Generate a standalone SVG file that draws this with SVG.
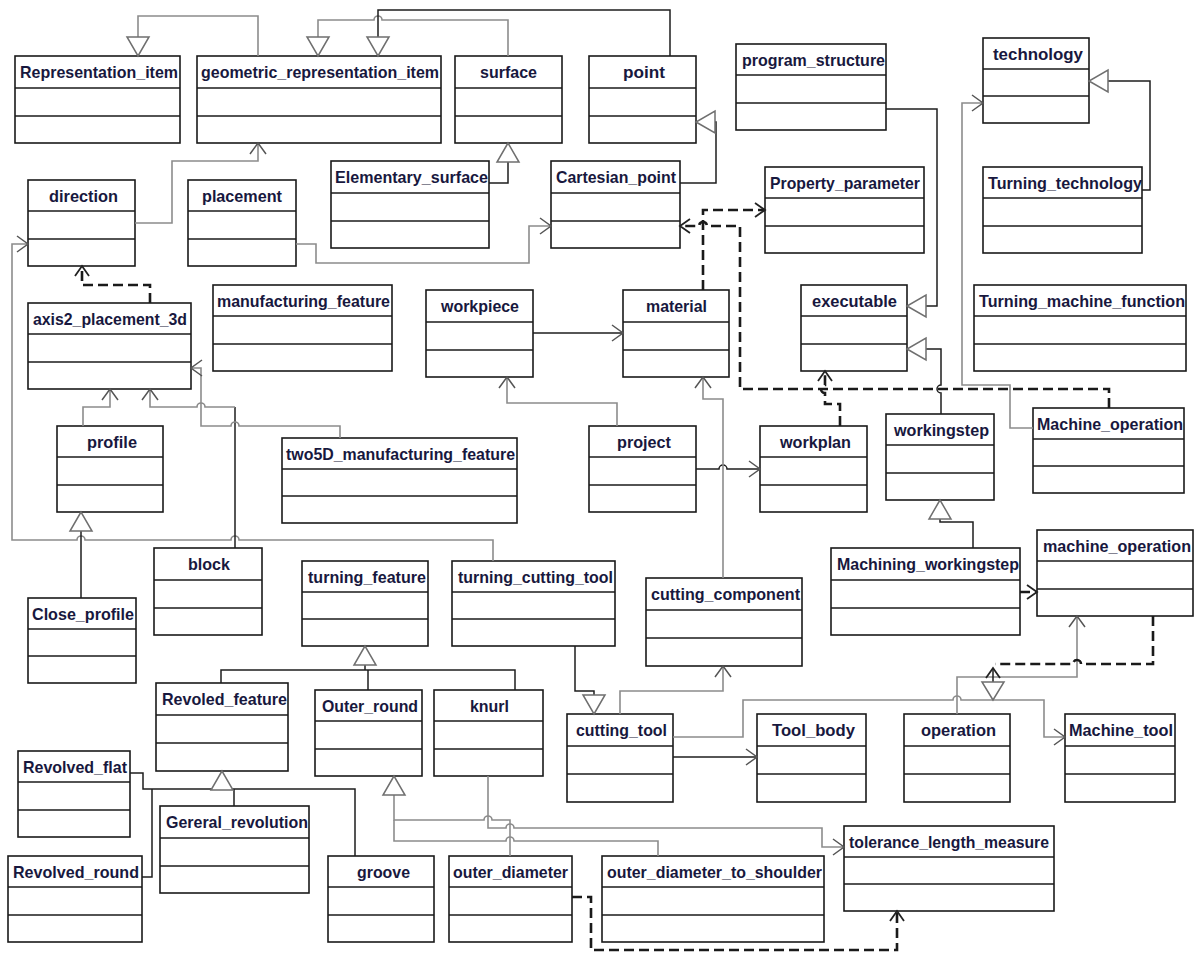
<svg xmlns="http://www.w3.org/2000/svg" width="1194" height="953" viewBox="0 0 1194 953">
<defs>
<style>
.box rect{fill:#fff;stroke:#1a1a1a;stroke-width:1.6}
.box line{stroke:#1a1a1a;stroke-width:1.4}
.t{font-family:"Liberation Sans",Arial,sans-serif;font-size:16.5px;font-weight:bold;fill:#18183e}
.k{fill:none;stroke:#1e1e1e;stroke-width:1.5}
.g{fill:none;stroke:#8c8c8c;stroke-width:1.6}
.d{fill:none;stroke:#1a1a1a;stroke-width:2.6;stroke-dasharray:10 5}
</style>
<marker id="tri" markerUnits="userSpaceOnUse" viewBox="-22 -13 24 26" markerWidth="24" markerHeight="26" refX="0" refY="0" orient="auto" overflow="visible">
<path d="M0,0 L-19,-11 L-19,11 Z" fill="#fff" stroke="#6f6f6f" stroke-width="1.5"/>
</marker>
<marker id="arr" markerUnits="userSpaceOnUse" viewBox="-13 -10 15 20" markerWidth="15" markerHeight="20" refX="0" refY="0" orient="auto" overflow="visible">
<path d="M-11,-8 L0,0 L-11,8" fill="none" stroke="#555" stroke-width="1.5"/>
</marker>
<marker id="arrk" markerUnits="userSpaceOnUse" viewBox="-13 -10 15 20" markerWidth="15" markerHeight="20" refX="0" refY="0" orient="auto" overflow="visible">
<path d="M-10,-7 L0,0 L-10,7" fill="none" stroke="#222" stroke-width="1.8"/>
</marker>
</defs>
<rect width="1194" height="953" fill="#fff"/>

<g id="n_representation_item" class="box"><rect x="15" y="56" width="165" height="87"/><line x1="15" y1="88" x2="180" y2="88"/><line x1="15" y1="116" x2="180" y2="116"/><text class="t" x="20" y="78" textLength="158" lengthAdjust="spacingAndGlyphs">Representation_item</text></g>
<g id="n_geometric_representation_item" class="box"><rect x="197" y="56" width="244" height="87"/><line x1="197" y1="88" x2="441" y2="88"/><line x1="197" y1="116" x2="441" y2="116"/><text class="t" x="201" y="78" textLength="238" lengthAdjust="spacingAndGlyphs">geometric_representation_item</text></g>
<g id="n_surface" class="box"><rect x="455" y="56" width="107" height="87"/><line x1="455" y1="88" x2="562" y2="88"/><line x1="455" y1="116" x2="562" y2="116"/><text class="t" x="480" y="78" textLength="57" lengthAdjust="spacingAndGlyphs">surface</text></g>
<g id="n_point" class="box"><rect x="589" y="56" width="107" height="87"/><line x1="589" y1="88" x2="696" y2="88"/><line x1="589" y1="116" x2="696" y2="116"/><text class="t" x="623" y="78" textLength="42" lengthAdjust="spacingAndGlyphs">point</text></g>
<g id="n_program_structure" class="box"><rect x="736" y="44" width="150" height="86"/><line x1="736" y1="75" x2="886" y2="75"/><line x1="736" y1="103" x2="886" y2="103"/><text class="t" x="742" y="66" textLength="143" lengthAdjust="spacingAndGlyphs">program_structure</text></g>
<g id="n_technology" class="box"><rect x="983" y="38" width="106" height="85"/><line x1="983" y1="69" x2="1089" y2="69"/><line x1="983" y1="96" x2="1089" y2="96"/><text class="t" x="993" y="60" textLength="90" lengthAdjust="spacingAndGlyphs">technology</text></g>
<g id="n_elementary_surface" class="box"><rect x="331" y="161" width="158" height="87"/><line x1="331" y1="193" x2="489" y2="193"/><line x1="331" y1="221" x2="489" y2="221"/><text class="t" x="335" y="183" textLength="153" lengthAdjust="spacingAndGlyphs">Elementary_surface</text></g>
<g id="n_cartesian_point" class="box"><rect x="551" y="161" width="129" height="87"/><line x1="551" y1="193" x2="680" y2="193"/><line x1="551" y1="221" x2="680" y2="221"/><text class="t" x="556" y="183" textLength="120" lengthAdjust="spacingAndGlyphs">Cartesian_point</text></g>
<g id="n_property_parameter" class="box"><rect x="765" y="167" width="159" height="86"/><line x1="765" y1="198" x2="924" y2="198"/><line x1="765" y1="226" x2="924" y2="226"/><text class="t" x="770" y="189" textLength="150" lengthAdjust="spacingAndGlyphs">Property_parameter</text></g>
<g id="n_turning_technology" class="box"><rect x="983" y="167" width="159" height="86"/><line x1="983" y1="198" x2="1142" y2="198"/><line x1="983" y1="226" x2="1142" y2="226"/><text class="t" x="988" y="189" textLength="154" lengthAdjust="spacingAndGlyphs">Turning_technology</text></g>
<g id="n_direction" class="box"><rect x="28" y="180" width="107" height="86"/><line x1="28" y1="211" x2="135" y2="211"/><line x1="28" y1="239" x2="135" y2="239"/><text class="t" x="49" y="202" textLength="69" lengthAdjust="spacingAndGlyphs">direction</text></g>
<g id="n_placement" class="box"><rect x="188" y="180" width="108" height="86"/><line x1="188" y1="211" x2="296" y2="211"/><line x1="188" y1="239" x2="296" y2="239"/><text class="t" x="202" y="202" textLength="80" lengthAdjust="spacingAndGlyphs">placement</text></g>
<g id="n_manufacturing_feature" class="box"><rect x="213" y="285" width="179" height="86"/><line x1="213" y1="316" x2="392" y2="316"/><line x1="213" y1="344" x2="392" y2="344"/><text class="t" x="217" y="307" textLength="173" lengthAdjust="spacingAndGlyphs">manufacturing_feature</text></g>
<g id="n_axis2_placement_3d" class="box"><rect x="28" y="303" width="163" height="86"/><line x1="28" y1="334" x2="191" y2="334"/><line x1="28" y1="362" x2="191" y2="362"/><text class="t" x="33" y="325" textLength="154" lengthAdjust="spacingAndGlyphs">axis2_placement_3d</text></g>
<g id="n_workpiece" class="box"><rect x="426" y="290" width="107" height="87"/><line x1="426" y1="322" x2="533" y2="322"/><line x1="426" y1="350" x2="533" y2="350"/><text class="t" x="441" y="312" textLength="78" lengthAdjust="spacingAndGlyphs">workpiece</text></g>
<g id="n_material" class="box"><rect x="623" y="290" width="106" height="87"/><line x1="623" y1="322" x2="729" y2="322"/><line x1="623" y1="350" x2="729" y2="350"/><text class="t" x="646" y="312" textLength="61" lengthAdjust="spacingAndGlyphs">material</text></g>
<g id="n_executable" class="box"><rect x="801" y="285" width="106" height="86"/><line x1="801" y1="316" x2="907" y2="316"/><line x1="801" y1="344" x2="907" y2="344"/><text class="t" x="812" y="307" textLength="85" lengthAdjust="spacingAndGlyphs">executable</text></g>
<g id="n_turning_machine_function" class="box"><rect x="974" y="285" width="212" height="86"/><line x1="974" y1="316" x2="1186" y2="316"/><line x1="974" y1="344" x2="1186" y2="344"/><text class="t" x="979" y="307" textLength="206" lengthAdjust="spacingAndGlyphs">Turning_machine_function</text></g>
<g id="n_profile" class="box"><rect x="57" y="426" width="106" height="86"/><line x1="57" y1="457" x2="163" y2="457"/><line x1="57" y1="485" x2="163" y2="485"/><text class="t" x="87" y="448" textLength="50" lengthAdjust="spacingAndGlyphs">profile</text></g>
<g id="n_two5d_manufacturing_feature" class="box"><rect x="282" y="438" width="235" height="85"/><line x1="282" y1="469" x2="517" y2="469"/><line x1="282" y1="496" x2="517" y2="496"/><text class="t" x="286" y="460" textLength="229" lengthAdjust="spacingAndGlyphs">two5D_manufacturing_feature</text></g>
<g id="n_project" class="box"><rect x="589" y="426" width="107" height="86"/><line x1="589" y1="457" x2="696" y2="457"/><line x1="589" y1="485" x2="696" y2="485"/><text class="t" x="617" y="448" textLength="54" lengthAdjust="spacingAndGlyphs">project</text></g>
<g id="n_workplan" class="box"><rect x="760" y="426" width="107" height="86"/><line x1="760" y1="457" x2="867" y2="457"/><line x1="760" y1="485" x2="867" y2="485"/><text class="t" x="780" y="448" textLength="71" lengthAdjust="spacingAndGlyphs">workplan</text></g>
<g id="n_workingstep" class="box"><rect x="886" y="414" width="108" height="86"/><line x1="886" y1="445" x2="994" y2="445"/><line x1="886" y1="473" x2="994" y2="473"/><text class="t" x="894" y="436" textLength="95" lengthAdjust="spacingAndGlyphs">workingstep</text></g>
<g id="n_machine_operation_upper" class="box"><rect x="1033" y="408" width="151" height="85"/><line x1="1033" y1="439" x2="1184" y2="439"/><line x1="1033" y1="466" x2="1184" y2="466"/><text class="t" x="1037" y="430" textLength="146" lengthAdjust="spacingAndGlyphs">Machine_operation</text></g>
<g id="n_block" class="box"><rect x="154" y="548" width="108" height="87"/><line x1="154" y1="580" x2="262" y2="580"/><line x1="154" y1="608" x2="262" y2="608"/><text class="t" x="188" y="570" textLength="42" lengthAdjust="spacingAndGlyphs">block</text></g>
<g id="n_close_profile" class="box"><rect x="28" y="598" width="108" height="85"/><line x1="28" y1="629" x2="136" y2="629"/><line x1="28" y1="656" x2="136" y2="656"/><text class="t" x="32" y="620" textLength="102" lengthAdjust="spacingAndGlyphs">Close_profile</text></g>
<g id="n_turning_feature" class="box"><rect x="302" y="561" width="126" height="85"/><line x1="302" y1="592" x2="428" y2="592"/><line x1="302" y1="619" x2="428" y2="619"/><text class="t" x="308" y="583" textLength="118" lengthAdjust="spacingAndGlyphs">turning_feature</text></g>
<g id="n_turning_cutting_tool" class="box"><rect x="452" y="561" width="163" height="85"/><line x1="452" y1="592" x2="615" y2="592"/><line x1="452" y1="619" x2="615" y2="619"/><text class="t" x="458" y="583" textLength="155" lengthAdjust="spacingAndGlyphs">turning_cutting_tool</text></g>
<g id="n_cutting_component" class="box"><rect x="646" y="578" width="156" height="88"/><line x1="646" y1="610" x2="802" y2="610"/><line x1="646" y1="638" x2="802" y2="638"/><text class="t" x="651" y="600" textLength="149" lengthAdjust="spacingAndGlyphs">cutting_component</text></g>
<g id="n_machining_workingstep" class="box"><rect x="831" y="548" width="189" height="87"/><line x1="831" y1="580" x2="1020" y2="580"/><line x1="831" y1="608" x2="1020" y2="608"/><text class="t" x="837" y="570" textLength="182" lengthAdjust="spacingAndGlyphs">Machining_workingstep</text></g>
<g id="n_machine_operation" class="box"><rect x="1037" y="530" width="156" height="86"/><line x1="1037" y1="561" x2="1193" y2="561"/><line x1="1037" y1="589" x2="1193" y2="589"/><text class="t" x="1043" y="552" textLength="148" lengthAdjust="spacingAndGlyphs">machine_operation</text></g>
<g id="n_revoled_feature" class="box"><rect x="156" y="683" width="132" height="88"/><line x1="156" y1="715" x2="288" y2="715"/><line x1="156" y1="743" x2="288" y2="743"/><text class="t" x="162" y="705" textLength="125" lengthAdjust="spacingAndGlyphs">Revoled_feature</text></g>
<g id="n_outer_round" class="box"><rect x="315" y="690" width="107" height="86"/><line x1="315" y1="721" x2="422" y2="721"/><line x1="315" y1="749" x2="422" y2="749"/><text class="t" x="322" y="712" textLength="96" lengthAdjust="spacingAndGlyphs">Outer_round</text></g>
<g id="n_knurl" class="box"><rect x="434" y="690" width="109" height="86"/><line x1="434" y1="721" x2="543" y2="721"/><line x1="434" y1="749" x2="543" y2="749"/><text class="t" x="470" y="712" textLength="39" lengthAdjust="spacingAndGlyphs">knurl</text></g>
<g id="n_cutting_tool" class="box"><rect x="567" y="714" width="106" height="88"/><line x1="567" y1="746" x2="673" y2="746"/><line x1="567" y1="774" x2="673" y2="774"/><text class="t" x="576" y="736" textLength="91" lengthAdjust="spacingAndGlyphs">cutting_tool</text></g>
<g id="n_tool_body" class="box"><rect x="757" y="714" width="109" height="88"/><line x1="757" y1="746" x2="866" y2="746"/><line x1="757" y1="774" x2="866" y2="774"/><text class="t" x="772" y="736" textLength="83" lengthAdjust="spacingAndGlyphs">Tool_body</text></g>
<g id="n_operation" class="box"><rect x="904" y="714" width="106" height="88"/><line x1="904" y1="746" x2="1010" y2="746"/><line x1="904" y1="774" x2="1010" y2="774"/><text class="t" x="921" y="736" textLength="75" lengthAdjust="spacingAndGlyphs">operation</text></g>
<g id="n_machine_tool" class="box"><rect x="1065" y="714" width="110" height="88"/><line x1="1065" y1="746" x2="1175" y2="746"/><line x1="1065" y1="774" x2="1175" y2="774"/><text class="t" x="1069" y="736" textLength="104" lengthAdjust="spacingAndGlyphs">Machine_tool</text></g>
<g id="n_revolved_flat" class="box"><rect x="18" y="751" width="112" height="86"/><line x1="18" y1="782" x2="130" y2="782"/><line x1="18" y1="810" x2="130" y2="810"/><text class="t" x="23" y="773" textLength="104" lengthAdjust="spacingAndGlyphs">Revolved_flat</text></g>
<g id="n_gereral_revolution" class="box"><rect x="160" y="806" width="149" height="87"/><line x1="160" y1="838" x2="309" y2="838"/><line x1="160" y1="866" x2="309" y2="866"/><text class="t" x="166" y="828" textLength="142" lengthAdjust="spacingAndGlyphs">Gereral_revolution</text></g>
<g id="n_revolved_round" class="box"><rect x="8" y="856" width="134" height="86"/><line x1="8" y1="887" x2="142" y2="887"/><line x1="8" y1="915" x2="142" y2="915"/><text class="t" x="13" y="878" textLength="126" lengthAdjust="spacingAndGlyphs">Revolved_round</text></g>
<g id="n_groove" class="box"><rect x="328" y="856" width="106" height="86"/><line x1="328" y1="887" x2="434" y2="887"/><line x1="328" y1="915" x2="434" y2="915"/><text class="t" x="357" y="878" textLength="53" lengthAdjust="spacingAndGlyphs">groove</text></g>
<g id="n_outer_diameter" class="box"><rect x="449" y="856" width="123" height="86"/><line x1="449" y1="887" x2="572" y2="887"/><line x1="449" y1="915" x2="572" y2="915"/><text class="t" x="453" y="878" textLength="115" lengthAdjust="spacingAndGlyphs">outer_diameter</text></g>
<g id="n_outer_diameter_to_shoulder" class="box"><rect x="602" y="856" width="222" height="86"/><line x1="602" y1="887" x2="824" y2="887"/><line x1="602" y1="915" x2="824" y2="915"/><text class="t" x="607" y="878" textLength="215" lengthAdjust="spacingAndGlyphs">outer_diameter_to_shoulder</text></g>
<g id="n_tolerance_length_measure" class="box"><rect x="844" y="826" width="210" height="85"/><line x1="844" y1="857" x2="1054" y2="857"/><line x1="844" y1="884" x2="1054" y2="884"/><text class="t" x="849" y="848" textLength="200" lengthAdjust="spacingAndGlyphs">tolerance_length_measure</text></g>

<g id="connectors">
<path class="g" d="M258,56 V16 H138 V56" marker-end="url(#tri)"/>
<path class="g" d="M508,56 V20 H382 a4,4 0 0 0 -8,0 H318 V56" marker-end="url(#tri)"/>
<path class="k" d="M670,56 V10 H378 V56" marker-end="url(#tri)"/>
<path class="k" d="M489,183 H508 V143" marker-end="url(#tri)"/>
<path class="k" d="M680,183 H716 V122 H696" marker-end="url(#tri)"/>
<path class="g" d="M135,223 H172 V161 H258 V143" marker-end="url(#arr)"/>
<path class="g" d="M296,244 H316 V263 H529 V226 H551" marker-end="url(#arr)"/>
<path class="d" d="M150,303 V285 H82 V266" marker-end="url(#arrk)"/>
<path class="g" d="M493,561 V540 H239 a4,4 0 0 0 -8,0 H85 a4,4 0 0 0 -8,0 H12 V244 H28" marker-end="url(#arr)"/>
<path class="g" d="M83,426 V407 H110 V389" marker-end="url(#arr)"/>
<path class="k" d="M235,548 V407"/>
<path class="g" d="M235,407 H205 a4,4 0 0 0 -8,0 H150 V389" marker-end="url(#arr)"/>
<path class="g" d="M340,438 V426 H239 a4,4 0 0 0 -8,0 H201 V368 H191" marker-end="url(#arr)"/>
<path class="k" d="M81,598 V512" marker-end="url(#tri)"/>
<path class="k" d="M533,333 H623" marker-end="url(#arr)"/>
<path class="g" d="M617,426 V403 H507 V377" marker-end="url(#arr)"/>
<path class="k" d="M696,469 H719 a4,4 0 0 1 8,0 H760" marker-end="url(#arr)"/>
<path class="g" d="M723,578 V399 H703 V377" marker-end="url(#arr)"/>
<path class="d" d="M703,290 V210 H765" marker-end="url(#arrk)"/>
<path class="d" d="M1109,408 V389 H740 V226 H707 a4,4 0 0 0 -8,0 H680" marker-end="url(#arrk)"/>
<path class="d" d="M840,426 V404 H825 V393 a4,4 0 0 1 0,-8 V371" marker-end="url(#arrk)"/>
<path class="k" d="M886,109 H937 V306 H907" marker-end="url(#tri)"/>
<path class="k" d="M941,414 V393 a4,4 0 0 1 0,-8 V349 H907" marker-end="url(#tri)"/>
<path class="k" d="M1142,190 H1150 V81 H1089" marker-end="url(#tri)"/>
<path class="g" d="M1033,428 H1010 V385 H962 V103 H983" marker-end="url(#arr)"/>
<path class="k" d="M973,548 V522 H940 V500" marker-end="url(#tri)"/>
<path class="d" d="M1020,592 H1037" marker-end="url(#arrk)"/>
<path class="k" d="M575,646 V691 H594 V714" marker-end="url(#tri)"/>
<path class="g" d="M620,714 V691 H723 V666" marker-end="url(#arr)"/>
<path class="k" d="M673,757 H757" marker-end="url(#arr)"/>
<path class="g" d="M673,737 H743 V700 H953 a4,4 0 0 1 8,0 H1044 V737 H1065" marker-end="url(#arr)"/>
<path class="g" d="M957,714 V677 H1077 V616" marker-end="url(#arr)"/>
<path class="d" d="M1153,616 V664 H1081 a4,4 0 0 0 -8,0 H995"/>
<path class="k" d="M993,682 V668" stroke-width="2" marker-end="url(#arrk)"/>
<polygon points="993,700 982,682 1004,682" fill="#fff" stroke="#6f6f6f" stroke-width="1.5"/>
<path class="k" d="M130,773 H143 V789 H355 V856"/>
<path class="k" d="M142,877 H152 V789"/>
<path class="k" d="M234,806 V789"/>
<path class="k" d="M222,789 V771" marker-end="url(#tri)"/>
<path class="k" d="M221,683 V670 H515 V690"/>
<path class="k" d="M368,690 V670"/>
<path class="k" d="M365,670 V646" marker-end="url(#tri)"/>
<path class="g" d="M510,856 V820 H492 a4,4 0 0 0 -8,0 H394 V776" marker-end="url(#tri)"/>
<path class="g" d="M658,856 V841 H514 a4,4 0 0 0 -8,0 H394 V820"/>
<path class="g" d="M488,776 V828 H506 a4,4 0 0 1 8,0 H822 V847 H844" marker-end="url(#arr)"/>
<path class="d" d="M572,897 H591 V950 H897 V911" marker-end="url(#arrk)"/>
</g>
</svg>
